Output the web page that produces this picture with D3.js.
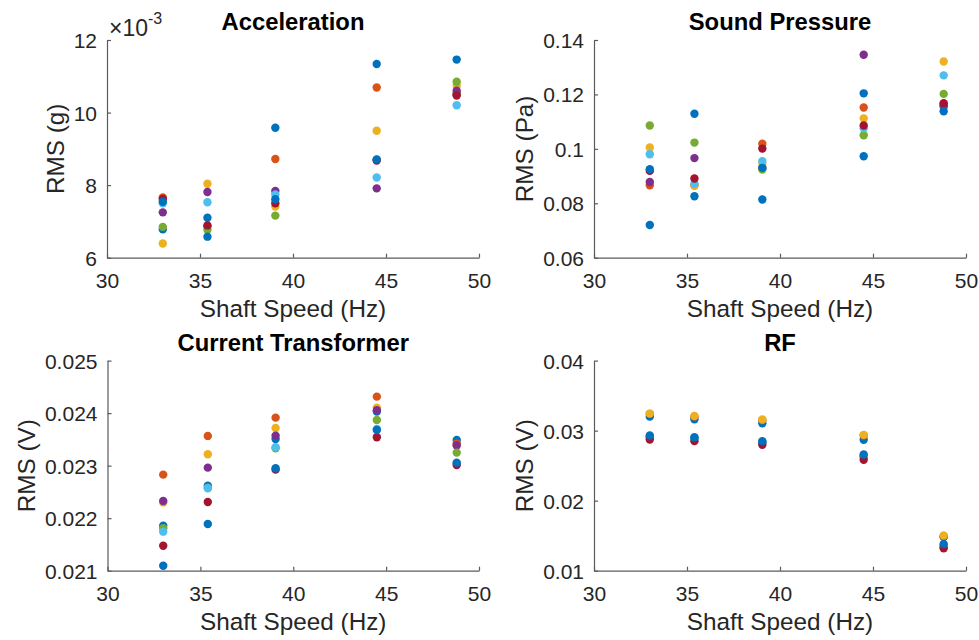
<!DOCTYPE html>
<html>
<head>
<meta charset="utf-8">
<script src="https://cdn.jsdelivr.net/npm/d3@7"></script>
<style>
  html, body { margin: 0; padding: 0; background: #fff; }
  svg { display: block; font-family: "Liberation Sans", Arial, Helvetica, sans-serif; }
</style>
</head>
<body>
<svg id="chart" width="979" height="640"></svg>
<script>
// Shaft speeds of the test runs (Hz)
const shaftSpeeds = [33.0, 35.4, 39.05, 44.5, 48.8];

// Eight measurement series per speed, plotted with the MATLAB colour order
const seriesColors = ["#0072BD", "#D95319", "#EDB120", "#7E2F8E", "#77AC30", "#4DBEEE", "#A2142F", "#0072BD"];

// Acceleration RMS (g)
const accelRms = [
  [0.00678, 0.00710, 0.00958, 0.01134, 0.01052],
  [0.00766, 0.00686, 0.00872, 0.01069, 0.01050],
  [0.00639, 0.00804, 0.00741, 0.00950, 0.01074],
  [0.00725, 0.00781, 0.00784, 0.00791, 0.01060],
  [0.00685, 0.00677, 0.00716, 0.00870, 0.01085],
  [0.00750, 0.00753, 0.00774, 0.00821, 0.01020],
  [0.00762, 0.00689, 0.00750, 0.00868, 0.01047],
  [0.00754, 0.00658, 0.00761, 0.00871, 0.01146]
];

// Sound pressure RMS (Pa)
const soundRms = [
  [0.0720, 0.1129, 0.0814, 0.1204, 0.1160],
  [0.0866, 0.0866, 0.1019, 0.1152, 0.1165],
  [0.1005, 0.0864, 0.0945, 0.1112, 0.1321],
  [0.0878, 0.0966, 0.0930, 0.1346, 0.1156],
  [0.1086, 0.1023, 0.0924, 0.1050, 0.1202],
  [0.0980, 0.0872, 0.0955, 0.1076, 0.1270],
  [0.0919, 0.0891, 0.1001, 0.1086, 0.1168],
  [0.0925, 0.0826, 0.0930, 0.0973, 0.1138]
];

// Current transformer RMS (V)
const currentRms = [
  [0.021857, 0.022619, 0.023509, 0.024029, 0.023490],
  [0.022829, 0.023566, 0.023914, 0.024314, 0.023420],
  [0.022300, 0.023217, 0.023718, 0.024105, 0.023380],
  [0.022328, 0.022962, 0.023572, 0.024055, 0.023388],
  [0.021807, 0.022580, 0.023330, 0.023870, 0.023248],
  [0.021743, 0.022570, 0.023350, 0.023700, 0.023040],
  [0.021476, 0.022309, 0.022924, 0.023540, 0.023013],
  [0.021095, 0.021890, 0.022950, 0.023680, 0.023057]
];

// RF RMS (V)
const rfRms = [
  [0.03200, 0.03163, 0.03105, 0.02869, 0.01480],
  [0.03240, 0.03200, 0.03150, 0.02930, 0.01490],
  [0.03243, 0.03210, 0.03158, 0.02940, 0.01504],
  [0.02910, 0.02890, 0.02830, 0.02630, 0.01350],
  [0.02910, 0.02890, 0.02830, 0.02630, 0.01350],
  [0.02910, 0.02890, 0.02830, 0.02630, 0.01350],
  [0.02873, 0.02850, 0.02798, 0.02585, 0.01319],
  [0.02930, 0.02906, 0.02850, 0.02660, 0.01380]
];

// Axis ticks
const speedTicks = [30, 35, 40, 45, 50];
const accelTicks = [0.006, 0.008, 0.010, 0.012];
const soundTicks = [0.06, 0.08, 0.10, 0.12, 0.14];
const currentTicks = [0.021, 0.022, 0.023, 0.024, 0.025];
const rfTicks = [0.01, 0.02, 0.03, 0.04];

const titles = ["Acceleration", "Sound Pressure", "Current Transformer", "RF"];
const yLabels = ["RMS (g)", "RMS (Pa)", "RMS (V)", "RMS (V)"];
const xLabel = "Shaft Speed (Hz)";

const panels = [
  { data: accelRms,   ticks: accelTicks,   fmt: v => d3.format("d")(Math.round(v * 1000)), exp: "-3",
    box: { x0: 107, x1: 479, y0: 40, y1: 257.7 } },
  { data: soundRms,   ticks: soundTicks,   fmt: v => String(+v.toFixed(2)),
    box: { x0: 594, x1: 966, y0: 40, y1: 257.7 } },
  { data: currentRms, ticks: currentTicks, fmt: v => v.toFixed(3),
    box: { x0: 107.5, x1: 479, y0: 360.6, y1: 570.7 } },
  { data: rfRms,      ticks: rfTicks,      fmt: v => v.toFixed(2),
    box: { x0: 594, x1: 966, y0: 360.6, y1: 570.7 } }
];

const svg = d3.select("#chart");
const axisColor = "#5a5a5a";
const textColor = "#262626";
const tickFont = 21, labelFont = 24.3, titleFont = 23.8;

panels.forEach((p, i) => {
  const b = p.box;
  const x = d3.scaleLinear().domain([30, 50]).range([b.x0, b.x1]);
  const y = d3.scaleLinear().domain(d3.extent(p.ticks)).range([b.y1, b.y0]);
  const g = svg.append("g");

  // x axis (ticks point inward)
  const xa = g.append("g").attr("transform", `translate(0,${b.y1})`)
    .call(d3.axisBottom(x).tickValues(speedTicks).tickSizeInner(-4).tickSizeOuter(0).tickPadding(0).tickFormat(d3.format("d")));
  xa.select(".domain").attr("stroke", axisColor).attr("stroke-width", 1.2);
  xa.selectAll(".tick line").attr("stroke", axisColor).attr("stroke-width", 1.2);
  xa.selectAll(".tick text").attr("fill", textColor).attr("font-size", tickFont)
    .attr("y", 30).attr("dy", 0);

  // y axis (ticks point inward)
  const ya = g.append("g").attr("transform", `translate(${b.x0},0)`)
    .call(d3.axisLeft(y).tickValues(p.ticks).tickSizeInner(-4).tickSizeOuter(0).tickPadding(0).tickFormat(p.fmt));
  ya.select(".domain").attr("stroke", axisColor).attr("stroke-width", 1.2);
  ya.selectAll(".tick line").attr("stroke", axisColor).attr("stroke-width", 1.2);
  ya.selectAll(".tick text").attr("fill", textColor).attr("font-size", tickFont)
    .attr("x", -10).attr("dy", "0.36em");
  xa.attr("font-family", null);
  ya.attr("font-family", null);

  // widest y tick label sets the y label position
  let maxW = 0;
  ya.selectAll(".tick text").each(function () { maxW = Math.max(maxW, this.getComputedTextLength()); });

  // markers
  p.data.forEach((row, s) => {
    g.append("g").selectAll("circle").data(row).join("circle")
      .attr("cx", (d, k) => x(shaftSpeeds[k]))
      .attr("cy", d => y(d))
      .attr("r", 4.2)
      .attr("fill", seriesColors[s]);
  });

  // title
  g.append("text").attr("x", (b.x0 + b.x1) / 2).attr("y", b.y0 - 10)
    .attr("text-anchor", "middle").attr("font-weight", "bold").attr("font-size", titleFont)
    .attr("fill", "#000").text(titles[i]);

  // x label
  g.append("text").attr("x", (b.x0 + b.x1) / 2).attr("y", b.y1 + 59)
    .attr("text-anchor", "middle").attr("font-size", labelFont).attr("fill", textColor).text(xLabel);

  // y label
  const lx = b.x0 - 10 - maxW - 10;
  g.append("text").attr("transform", `translate(${lx},${(b.y0 + b.y1) / 2}) rotate(-90)`)
    .attr("text-anchor", "middle").attr("font-size", labelFont).attr("fill", textColor).text(yLabels[i]);

  // exponent marker above the axis
  if (p.exp) {
    const t = g.append("text").attr("x", b.x0 + 2).attr("y", b.y0 - 4)
      .attr("font-size", 23).attr("fill", textColor);
    t.append("tspan").text("\u00D710");
    t.append("tspan").attr("font-size", 16).attr("dy", -12).text(p.exp);
  }
});
</script>
</body>
</html>
